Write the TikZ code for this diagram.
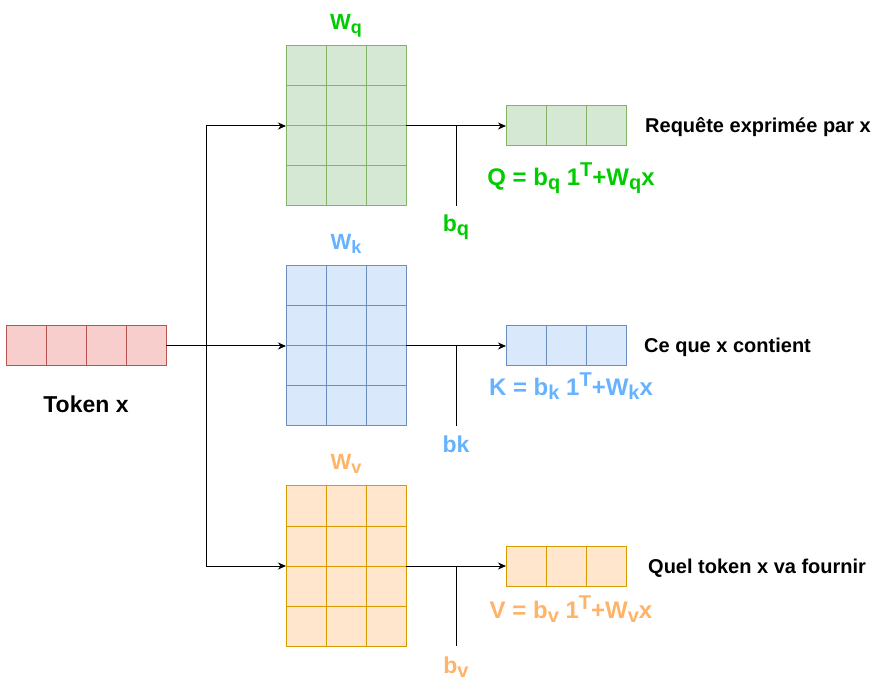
\documentclass[tikz,border=0pt]{standalone}
\usepackage{fontspec}
\setmainfont{Liberation Sans}
\usetikzlibrary{arrows.meta,calc}
\definecolor{gfill}{HTML}{D5E8D4}\definecolor{gline}{HTML}{82B366}\definecolor{gtext}{HTML}{00CC00}
\definecolor{bfill}{HTML}{DAE8FC}\definecolor{bline}{HTML}{6C8EBF}\definecolor{btext}{HTML}{66B2FF}
\definecolor{ofill}{HTML}{FFE6CC}\definecolor{oline}{HTML}{D79B00}\definecolor{otext}{HTML}{FFB366}
\definecolor{rfill}{HTML}{F8CECC}\definecolor{rline}{HTML}{B85450}
\newcommand\dsub[1]{\raisebox{-4pt}{\fontsize{20}{20}\selectfont #1}}
\newcommand\dsup[1]{\raisebox{9pt}{\fontsize{20}{20}\selectfont #1}}
\newcommand\tsub[1]{\raisebox{-4pt}{\fontsize{18}{18}\selectfont #1}}
\tikzset{
  box/.style={draw, rectangle, inner sep=0pt, outer sep=0pt, line width=1pt},
  mat/.style={box, minimum width=120pt, minimum height=160pt},
  vec/.style={box, minimum width=120pt, minimum height=40pt},
  tokbox/.style={box, minimum width=160pt, minimum height=40pt, fill=rfill, draw=rline},
  green/.style={fill=gfill, draw=gline},
  blue/.style={fill=bfill, draw=bline},
  orange/.style={fill=ofill, draw=oline},
  conn/.style={line width=1pt, draw=black},
  arr/.style={conn, -{Stealth[length=8pt,width=7pt,inset=2.5pt]}},
  title/.style={anchor=base, inner sep=0pt, font=\fontsize{22}{26}\selectfont\bfseries},
  eq/.style={anchor=base, inner sep=0pt, font=\fontsize{24}{28}\selectfont\bfseries},
  bias/.style={anchor=base, inner sep=0pt, font=\fontsize{23}{27}\selectfont\bfseries},
  desc/.style={anchor=base west, inner sep=0pt, font=\fontsize{20}{24}\selectfont\bfseries},
}
\begin{document}
\begin{tikzpicture}[x=1pt, y=-1pt]
\useasboundingbox (0,0) rectangle (876,692);
% token
\node[tokbox] (tok) at (86,346) {};
\foreach \k in {1,2,3} \draw[line width=1pt, rline] ($(tok.north west)+(40*\k,0)$) -- ($(tok.south west)+(40*\k,0)$);
\node[anchor=base, inner sep=0pt, font=\fontsize{23}{27}\selectfont\bfseries] (toklabel) at (86,413) {Token x};
% matrices
\node[mat, green] (Wq) at (346,126) {};
\node[mat, blue] (Wk) at (346,346) {};
\node[mat, orange] (Wv) at (346,566) {};
\foreach \m/\c in {Wq/gline, Wk/bline, Wv/oline}{
  \foreach \k in {1,2} \draw[line width=1pt, \c] ($(\m.north west)+(40*\k,0)$) -- ($(\m.south west)+(40*\k,0)$);
  \foreach \k in {1,2,3} \draw[line width=1pt, \c] ($(\m.north west)+(0,40*\k)$) -- ($(\m.north east)+(0,40*\k)$);
}
\node[title, text=gtext] (tWq) at (346,30) {W\tsub{q}};
\node[title, text=btext] (tWk) at (346,250) {W\tsub{k}};
\node[title, text=otext] (tWv) at (346,470) {W\tsub{v}};
% output vectors
\node[vec, green] (Q) at (566,126) {};
\node[vec, blue] (K) at (566,346) {};
\node[vec, orange] (V) at (566,566) {};
\foreach \m/\c in {Q/gline, K/bline, V/oline}{
  \foreach \k in {1,2} \draw[line width=1pt, \c] ($(\m.north west)+(40*\k,0)$) -- ($(\m.south west)+(40*\k,0)$);
}
% connectors from token
\coordinate (junc) at (206,346);
\draw[arr] (tok.east) -- (Wk.west);
\draw[arr] (junc) |- (Wq.west);
\draw[arr] (junc) |- (Wv.west);
% outputs
\draw[arr] (Wq.east) -- (Q.west);
\draw[arr] (Wk.east) -- (K.west);
\draw[arr] (Wv.east) -- (V.west);
% biases
\coordinate (bqtop) at (456,126); \coordinate (bqbot) at (456,206);
\coordinate (bktop) at (456,346); \coordinate (bkbot) at (456,426);
\coordinate (bvtop) at (456,566); \coordinate (bvbot) at (456,646);
\draw[conn] (bqtop) -- (bqbot);
\draw[conn] (bktop) -- (bkbot);
\draw[conn] (bvtop) -- (bvbot);
\node[bias, text=gtext] (bq) at (456,232) {b\dsub{q}};
\node[bias, text=btext] (bk) at (456,453) {bk};
\node[bias, text=otext] (bv) at (456,673) {b\dsub{v}};
% equations
\node[eq, text=gtext] (eqQ) at (571,186) {Q = b\dsub{q} 1\dsup{T}+W\dsub{q}x};
\node[eq, text=btext] (eqK) at (571,396) {K = b\dsub{k} 1\dsup{T}+W\dsub{k}x};
\node[eq, text=otext] (eqV) at (571,618) {V = b\dsub{v} 1\dsup{T}+W\dsub{v}x};
% descriptions
\node[desc] (dQ) at (645,133) {Requête exprimée par x};
\node[desc] (dK) at (644,353) {Ce que x contient};
\node[desc] (dV) at (648,573) {Quel token x va fournir};
\end{tikzpicture}
\end{document}
